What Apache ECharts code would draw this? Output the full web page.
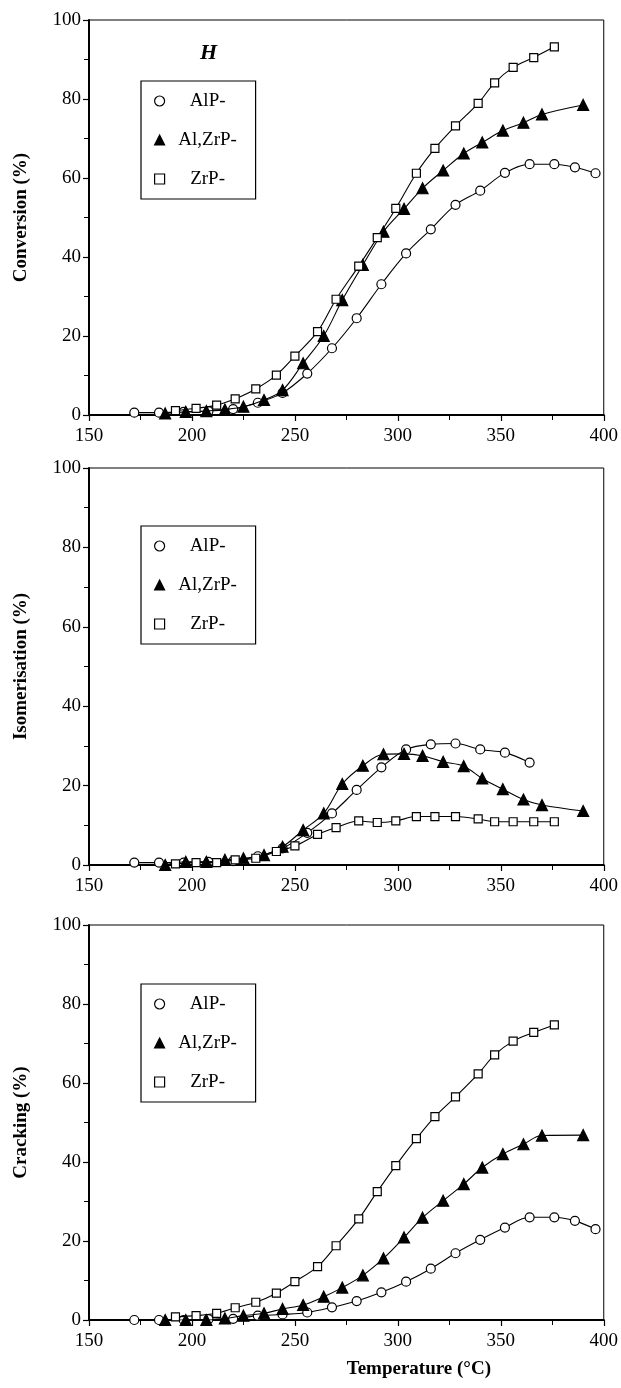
<!DOCTYPE html>
<html>
<head>
<meta charset="utf-8">
<script src="https://cdn.jsdelivr.net/npm/echarts@6/dist/echarts.min.js"></script>
<style>
  html, body { margin: 0; padding: 0; background: #fff; }
  #chart { width: 621px; height: 1388px; }
</style>
</head>
<body>
<div id="chart"></div>
<script>
// ---- data (temperatures in °C, values in %) ----
const tAlP   = [172,184,196,208,220,232,244,256,268,280,292,304,316,328,340,352,364,376,386,396];
const tAlZrP = [187,197,207,216,225,235,244,254,264,273,283,293,303,312,322,332,341,351,361,370,390];
const tZrP   = [192,202,212,221,231,241,250,261,270,281,290,299,309,318,328,339,347,356,366,376];

const convAlP   = [0.6,0.6,0.8,1.0,1.5,3.1,5.6,10.5,16.9,24.5,33.1,40.9,47.0,53.2,56.8,61.3,63.5,63.5,62.7,61.2];
const convAlZrP = [0.4,0.8,1.0,1.4,2.1,3.8,6.3,13.1,20.0,29.1,38.0,46.4,52.2,57.4,61.9,66.2,69.0,72.0,74.0,76.1,78.5];
const convZrP   = [1.1,1.7,2.5,4.1,6.6,10.1,14.9,21.1,29.3,37.7,44.9,52.3,61.2,67.5,73.2,78.9,84.1,88.0,90.5,93.2];

const isoAlP   = [0.6,0.6,0.6,0.8,1.0,2.2,4.2,8.1,13.0,18.9,24.6,29.1,30.4,30.6,29.1,28.3,25.8];
const isoAlZrP = [0.0,0.8,0.8,1.3,1.7,2.5,4.6,8.8,13.0,20.4,25.0,27.9,28.0,27.5,26.0,24.9,21.8,19.1,16.5,15.1,13.6];
const isoZrP   = [0.3,0.6,0.6,1.3,1.7,3.4,4.8,7.7,9.4,11.1,10.7,11.1,12.2,12.2,12.2,11.6,10.9,10.9,10.9,10.9];

const crackAlP   = [0.0,0.0,0.0,0.2,0.3,1.1,1.4,1.9,3.2,4.8,7.0,9.7,13.0,16.9,20.3,23.4,26.0,26.0,25.1,23.0];
const crackAlZrP = [0.0,0.0,0.0,0.4,1.1,1.7,2.8,3.8,5.9,8.2,11.3,15.6,20.9,25.9,30.2,34.4,38.6,42.0,44.5,46.7,46.8];
const crackZrP   = [0.8,1.1,1.7,3.1,4.5,6.8,9.7,13.5,18.8,25.6,32.5,39.1,45.9,51.5,56.5,62.3,67.1,70.6,72.8,74.7];

const seriesNames = ['AlP-', 'Al,ZrP-', 'ZrP-'];
const yTitles = ['Conversion (%)', 'Isomerisation (%)', 'Cracking (%)'];
const xTitle = 'Temperature (°C)';
const panelLabel = 'H';

// ---- layout ----
const FONT = '"Liberation Serif", "Times New Roman", serif';
const gridTops = [20, 468, 925];
const gridHeights = [395, 397, 395];
const legendTops = [81, 526, 984];

function pairs(ts, vs) { return vs.map((v, i) => [ts[i], v]); }

const panels = [
  [convAlP, convAlZrP, convZrP],
  [isoAlP, isoAlZrP, isoZrP],
  [crackAlP, crackAlZrP, crackZrP]
];
const temps = [tAlP, tAlZrP, tZrP];
const symbols = ['circle', 'triangle', 'rect'];
const sizes = [9, 11, 8];
const fills = ['#fff', '#000', '#fff'];

const grids = [], xAxes = [], yAxes = [], series = [], legends = [];
panels.forEach((pv, p) => {
  grids.push({ left: 89, width: 517, top: gridTops[p], height: gridHeights[p],
    show: true, borderColor: '#000', borderWidth: 1, backgroundColor: 'transparent' });
  xAxes.push({
    type: 'value', gridIndex: p, min: 150, max: 400, interval: 50,
    name: p === 2 ? xTitle : '', nameLocation: 'middle', nameGap: 40,
    nameTextStyle: { fontFamily: FONT, fontWeight: 'bold', fontSize: 19, color: '#000', padding: [0, 0, 0, 145] },
    axisLine: { show: true, onZero: false, lineStyle: { color: '#000', width: 2 } },
    axisTick: { show: true, length: 6, lineStyle: { color: '#000', width: 1.2 } },
    minorTick: { show: true, splitNumber: 2, length: 5, lineStyle: { color: '#000', width: 1 } },
    splitLine: { show: false },
    axisLabel: { fontFamily: FONT, fontSize: 19, color: '#000', margin: 12 }
  });
  yAxes.push({
    type: 'value', gridIndex: p, min: 0, max: 100, interval: 20,
    name: yTitles[p], nameLocation: 'middle', nameRotate: 90, nameGap: 58,
    nameTextStyle: { fontFamily: FONT, fontWeight: 'bold', fontSize: 19, color: '#000' },
    axisLine: { show: true, onZero: false, lineStyle: { color: '#000', width: 2 } },
    axisTick: { show: true, length: 6, lineStyle: { color: '#000', width: 1.2 } },
    minorTick: { show: true, splitNumber: 2, length: 5, lineStyle: { color: '#000', width: 1 } },
    splitLine: { show: false },
    axisLabel: { fontFamily: FONT, fontSize: 19, color: '#000', margin: 8 }
  });
  pv.forEach((vals, s) => {
    series.push({
      type: 'line', name: seriesNames[s], xAxisIndex: p, yAxisIndex: p,
      data: pairs(temps[s], vals), smooth: 0.35,
      symbol: symbols[s], symbolSize: sizes[s], showAllSymbol: true,
      lineStyle: { color: '#000', width: 1.1 },
      itemStyle: { color: fills[s], borderColor: '#000', borderWidth: 1.2, opacity: 1 },
      emphasis: { disabled: true }, animation: false, z: 3 + s
    });
  });
  legends.push({
    orient: 'vertical', left: 141, top: legendTops[p],
    itemWidth: 10, itemHeight: 10, itemGap: 19,
    padding: [10, 10, 10, 13],
    borderColor: '#000', borderWidth: 1.2, backgroundColor: '#fff',
    selectedMode: false,
    formatter: '{c|{name}}',
    textStyle: {
      fontFamily: FONT, fontSize: 19, lineHeight: 20, color: '#000',
      rich: { c: { fontFamily: FONT, fontSize: 19, lineHeight: 20, color: '#000', width: 76, align: 'center' } }
    },
    data: seriesNames.map((n, s) => ({
      name: n, icon: s === 0 ? 'circle' : (s === 1 ? 'triangle' : 'rect'),
      itemStyle: { color: fills[s], borderColor: '#000', borderWidth: 1.2 }
    }))
  });
});

const chart = echarts.init(document.getElementById('chart'), null, { renderer: 'canvas' });
chart.setOption({
  animation: false,
  backgroundColor: '#fff',
  grid: grids, xAxis: xAxes, yAxis: yAxes, series: series, legend: legends,
  graphic: [{
    type: 'text', left: 200, top: 42,
    style: { text: panelLabel, font: 'bold italic 22px "Liberation Serif", serif', fill: '#000' }
  }]
});
</script>
</body>
</html>
